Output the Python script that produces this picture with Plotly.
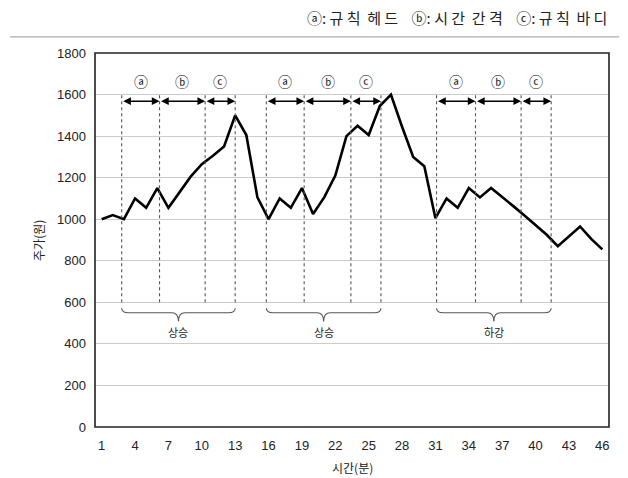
import plotly.graph_objects as go

# ---- data ----
time_min = list(range(1, 47))
price = [1000, 1020, 1000, 1100, 1055, 1150, 1055, 1130, 1205, 1265,
         1305, 1350, 1500, 1405, 1105, 1000, 1100, 1055, 1150, 1025,
         1105, 1210, 1400, 1450, 1405, 1545, 1600, 1445, 1300, 1255,
         1005, 1100, 1055, 1150, 1105, 1150, 1108, 1063, 1018, 973,
         925, 870, 918, 965, 905, 855]
x_ticks = list(range(1, 47, 3))
y_ticks = list(range(0, 1801, 200))

# rule segment boundaries (head start, head end / gap start, gap end / body start, body end)
groups = [
    [2.8, 6.2, 10.3, 13.0],
    [15.8, 19.2, 23.4, 26.1],
    [31.1, 34.6, 38.7, 41.4],
]
seg_labels = ["ⓐ", "ⓑ", "ⓒ"]
group_labels = ["상승", "상승", "하강"]
title_text = "ⓐ: 규 칙  헤 드    ⓑ: 시 간  간 격    ⓒ: 규 칙  바 디"

# annotation levels (in price units)
v_top, v_bot = 1610, 600
arrow_y = 1568
letter_y = 1665
brace_top, brace_mid, brace_tip = 572, 550, 508
label_y = 458

KFONT = "Noto Sans CJK KR"
NFONT = "Liberation Sans"

fig = go.Figure()
fig.add_trace(go.Scatter(x=time_min, y=price, mode="lines",
                         line=dict(color="black", width=2.6), showlegend=False,
                         hoverinfo="skip"))

shapes = []
annotations = []

for gi, g in enumerate(groups):
    for xv in g:
        shapes.append(dict(type="line", xref="x", yref="y", x0=xv, x1=xv,
                           y0=v_bot, y1=v_top,
                           line=dict(color="#555555", width=1.1, dash="dot")))
    for si in range(3):
        a, b = g[si], g[si + 1]
        annotations.append(dict(x=b, y=arrow_y, ax=a, ay=arrow_y,
                                xref="x", yref="y", axref="x", ayref="y",
                                text="", showarrow=True, arrowhead=2,
                                arrowside="end+start", arrowsize=1.1,
                                arrowwidth=1.4, arrowcolor="black"))
        annotations.append(dict(x=(a + b) / 2, y=letter_y, xref="x", yref="y",
                                text=seg_labels[si], showarrow=False,
                                font=dict(family=KFONT, size=14, color="#222")))
    x0, x1 = g[0], g[-1]
    xm = (x0 + x1) / 2
    d = 0.6
    path = (f"M {x0},{brace_top} Q {x0},{brace_mid} {x0 + d},{brace_mid} "
            f"L {xm - d},{brace_mid} Q {xm},{brace_mid} {xm},{brace_tip} "
            f"Q {xm},{brace_mid} {xm + d},{brace_mid} "
            f"L {x1 - d},{brace_mid} Q {x1},{brace_mid} {x1},{brace_top}")
    shapes.append(dict(type="path", xref="x", yref="y", path=path,
                       line=dict(color="#555555", width=1.1)))
    annotations.append(dict(x=xm, y=label_y, xref="x", yref="y",
                            text=group_labels[gi], showarrow=False,
                            font=dict(family=KFONT, size=11, color="#222")))

# title + rule line
annotations.append(dict(x=1.0, y=1.094, xref="paper", yref="paper",
                        xanchor="right", yanchor="middle", text=title_text,
                        showarrow=False,
                        font=dict(family=KFONT, size=15, color="#222")))
shapes.append(dict(type="line", xref="paper", yref="paper", x0=-0.165, x1=1.02,
                   y0=1.043, y1=1.043, line=dict(color="#999999", width=1)))

# axis titles
annotations.append(dict(x=-0.111, y=0.5, xref="paper", yref="paper",
                        xanchor="center", yanchor="middle",
                        text="주가(원)", textangle=-90, showarrow=False,
                        font=dict(family=KFONT, size=12, color="#222")))
annotations.append(dict(x=0.5, y=-0.107, xref="paper", yref="paper",
                        xanchor="center", yanchor="middle",
                        text="시간(분)", showarrow=False,
                        font=dict(family=KFONT, size=12, color="#222")))

# plot frame
shapes.append(dict(type="rect", xref="paper", yref="paper", x0=0, x1=1, y0=0, y1=1,
                   line=dict(color="#222222", width=1.6)))

# page body adds an 8px offset, so the figure is 8px smaller than the window
fig.update_layout(
    width=620, height=470,
    margin=dict(l=87, r=19, t=45, b=51),
    paper_bgcolor="white", plot_bgcolor="white",
    shapes=shapes, annotations=annotations,
    showlegend=False,
)
fig.update_xaxes(range=[0.4, 46.6], tickmode="array", tickvals=x_ticks,
                 ticktext=[str(v) for v in x_ticks], showgrid=False,
                 zeroline=False, showline=False, ticks="",
                 ticklabelstandoff=9,
                 tickfont=dict(family=NFONT, size=13, color="#222"))
fig.update_yaxes(range=[0, 1800], tickmode="array", tickvals=y_ticks,
                 ticktext=[str(v) for v in y_ticks], showgrid=True,
                 gridcolor="#cccccc", gridwidth=1, zeroline=False,
                 showline=False, ticks="",
                 ticklabelstandoff=8,
                 tickfont=dict(family=NFONT, size=13, color="#222"))

fig.write_html("out.html")
